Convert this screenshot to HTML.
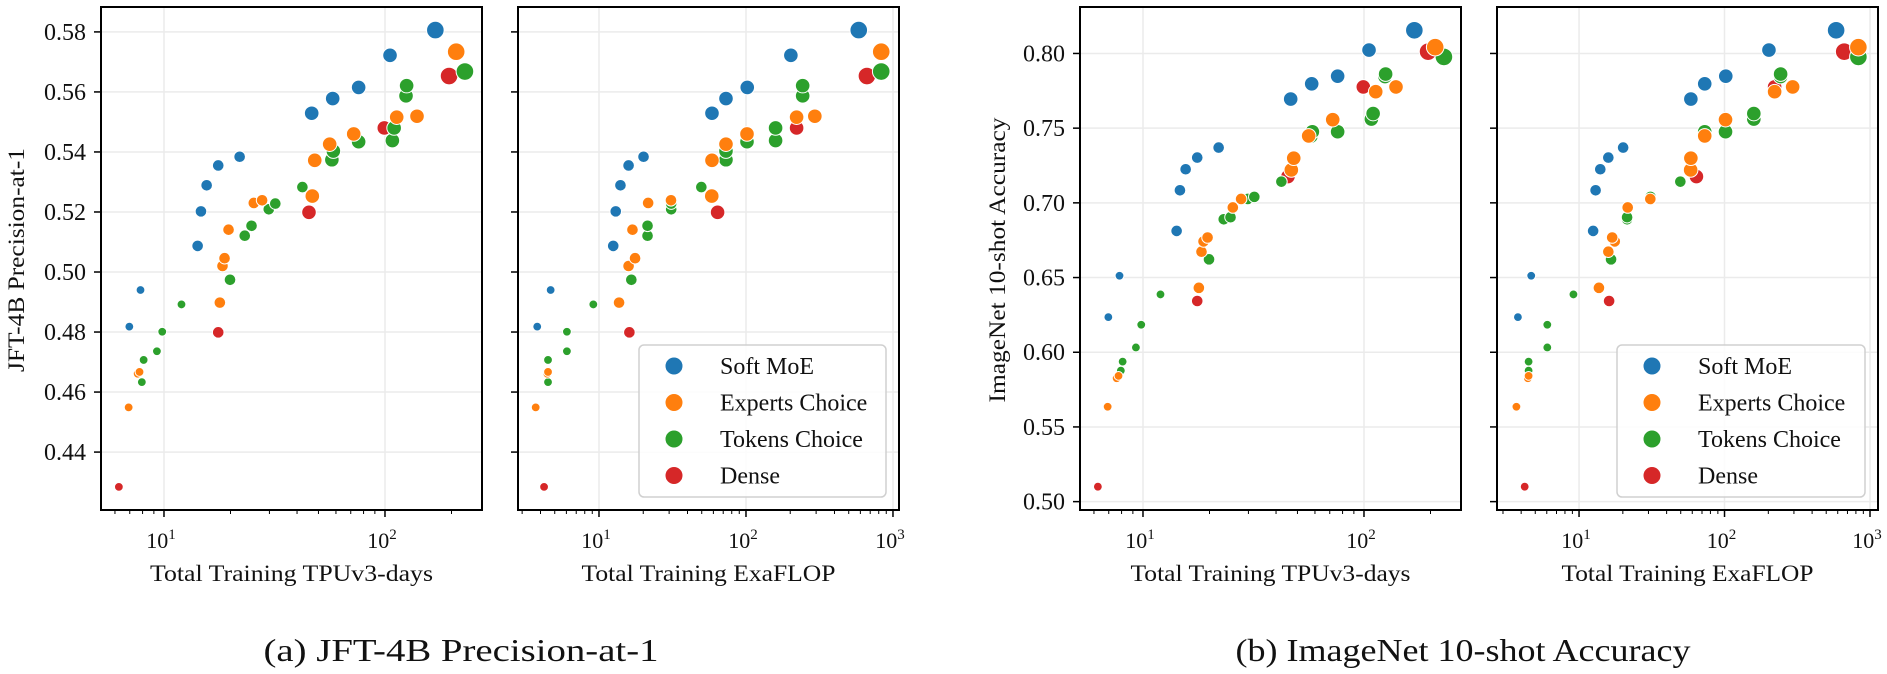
<!DOCTYPE html>
<html><head><meta charset="utf-8"><style>
html,body{margin:0;padding:0;background:#fff;}
svg{display:block;font-family:"Liberation Serif",serif;}
</style></head><body>
<svg id="chart" width="1887" height="674" viewBox="0 0 1887 674" xmlns="http://www.w3.org/2000/svg"></svg>
<script>
// ---- data ----
const seriesNames = ["Soft MoE","Experts Choice","Tokens Choice","Dense"];
const seriesColors = ["#1f77b4","#ff7f0e","#2ca02c","#d62728"];
// Soft MoE
const softTpu  = [6.97,7.83,14.2,14.7,15.6,17.6,22.0,46.6,58.0,76.0,105.4,169];
const softFlop = [3.80,4.69,12.5,13.0,14.0,15.9,20.1,58.7,73.1,102,202,585];
const softJft  = [.4818,.494,.5087,.5202,.5289,.5355,.5384,.5529,.5578,.5615,.5722,.5806];
const softImn  = [.6235,.6512,.6812,.7084,.7225,.7303,.7370,.7695,.7797,.7848,.8023,.8155];
const softSize = ["s","s","m","m","m","m","m","l","l","l","l","xl"];
// Experts Choice
const expTpu  = [6.92,7.6,7.75,17.9,18.4,18.8,19.6,25.5,27.8,46.9,48.1,56.2,72.2,113,139.6,210];
const expFlop = [3.71,4.45,4.5,13.7,15.9,17.6,16.9,21.6,30.9,58.5,58.7,73.1,101.6,221,294,832];
const expJft  = [.4549,.4661,.4667,.4898,.5020,.5046,.5141,.5230,.5239,.5253,.5372,.5426,.5460,.5516,.5519,.5734];
const expImn  = [.5635,.5826,.5842,.6431,.6673,.6742,.6768,.6969,.7026,.7220,.7299,.7448,.7557,.7744,.7776,.8042];
const expSize = ["s","s","s","m","m","m","m","m","m","l","l","l","l","l","l","xl"];
// Tokens Choice
const tokTpu  = [7.94,8.09,9.29,9.82,12.0,19.9,23.2,24.9,29.8,31.9,42.3,57.5,58.4,76.0,108,110,124.5,125.3,230];
const tokFlop = [4.5,4.5,6.05,6.05,9.15,16.6,21.4,21.4,31,31,49.7,73.1,73.1,101.6,159,159,243,243,832];
const tokJft  = [.4633,.4707,.4736,.4801,.4892,.4974,.5121,.5154,.5209,.5228,.5283,.5374,.5403,.5434,.5438,.5480,.5587,.5621,.5668];
const tokImn  = [.5877,.5937,.6032,.6184,.6387,.6622,.6890,.6904,.7026,.7040,.7142,.7446,.7476,.7476,.7561,.7598,.7845,.7862,.7977];
const tokSize = ["s","s","s","s","s","m","m","m","m","m","m","l","l","l","l","l","l","l","xl"];
// Dense
const denTpu  = [6.25,17.6,45.3,99.3,195];
const denFlop = [4.23,16.1,64.1,221,665];
const denJft  = [.4284,.4799,.5199,.5480,.5653];
const denImn  = [.5100,.6343,.7176,.7776,.8012];
const denSize = ["s","m","l","l","xl"];

const jftTicks = [0.44,0.46,0.48,0.50,0.52,0.54,0.56,0.58];
const imnTicks = [0.50,0.55,0.60,0.65,0.70,0.75,0.80];
const xTickExps = [1,2,3];

const NS="http://www.w3.org/2000/svg";
const svg=document.getElementById('chart');
const radius={s:4.4,m:5.8,l:7.3,xl:8.8};
function mk(tag,attrs,parent){const e=document.createElementNS(NS,tag);for(const k in attrs)e.setAttribute(k,attrs[k]);(parent||svg).appendChild(e);return e;}

const panels=[
 {name:"jft-tpu",x0:101,x1:482,l0:0.715,l1:2.439,y0:7,y1:510,v0:.5883,v1:.4207,yt:jftTicks,dec:2,labels:true,metric:"tpu",ds:"jft",xt:"Total Training TPUv3-days",xtw:283,legend:false},
 {name:"jft-flop",x0:518,x1:899,l0:0.449,l1:3.041,y0:7,y1:510,v0:.5883,v1:.4207,yt:jftTicks,dec:2,labels:false,metric:"flop",ds:"jft",xt:"Total Training ExaFLOP",xtw:254,legend:true},
 {name:"imagenet-tpu",x0:1080,x1:1461,l0:0.715,l1:2.439,y0:7,y1:510,v0:.8311,v1:.4944,yt:imnTicks,dec:2,labels:true,metric:"tpu",ds:"imn",xt:"Total Training TPUv3-days",xtw:280,legend:false},
 {name:"imagenet-flop",x0:1497,x1:1878,l0:0.436,l1:3.055,y0:7,y1:510,v0:.8311,v1:.4944,yt:imnTicks,dec:2,labels:false,metric:"flop",ds:"imn",xt:"Total Training ExaFLOP",xtw:252,legend:true}
];
const series=[
 {i:0,tpu:softTpu,flop:softFlop,jft:softJft,imn:softImn,size:softSize},
 {i:3,tpu:denTpu,flop:denFlop,jft:denJft,imn:denImn,size:denSize},
 {i:2,tpu:tokTpu,flop:tokFlop,jft:tokJft,imn:tokImn,size:tokSize},
 {i:1,tpu:expTpu,flop:expFlop,jft:expJft,imn:expImn,size:expSize}
];

panels.forEach(p=>{
  const g=mk('g',{});
  
  
  const X=v=>p.x0+(Math.log10(v)-p.l0)/(p.l1-p.l0)*(p.x1-p.x0);
  const Y=v=>p.y0+(p.v0-v)/(p.v0-p.v1)*(p.y1-p.y0);
  // grid
  p.yt.forEach(t=>{const y=Y(t);const l=mk('line',{x1:p.x0,x2:p.x1,y1:y,y2:y,stroke:'#ebebeb','stroke-width':1.5},g);
    });
  xTickExps.forEach(e=>{const v=Math.pow(10,e);const x=X(v);if(x<p.x0||x>p.x1+1)return;
    const l=mk('line',{x1:x,x2:x,y1:p.y0,y2:p.y1,stroke:'#ebebeb','stroke-width':1.5},g);
    });
  // y ticks
  p.yt.forEach(t=>{const y=Y(t);const tk=mk('line',{x1:p.x0-7,x2:p.x0,y1:y,y2:y,stroke:'#000','stroke-width':1.5},g);
    
    if(p.labels){const tx=mk('text',{x:p.x0-15,y:y+8,'text-anchor':'end','font-size':24,fill:'#111'},g);tx.textContent=t.toFixed(2);
      }});
  // x ticks
  for(let e=0;e<=3;e++){for(let k=1;k<=9;k++){const v=k*Math.pow(10,e);const x=X(v);if(x<p.x0-0.5||x>p.x1+0.5)continue;
    const major=k===1;const tk=mk('line',{x1:x,x2:x,y1:p.y1,y2:p.y1+(major?7:4),stroke:'#000','stroke-width':major?1.5:1},g);
    
    if(major){const tx=mk('text',{x:x-3,y:548,'text-anchor':'middle','font-size':22,fill:'#111'},g);
      tx.textContent='10';const sup=mk('tspan',{dy:-9,'font-size':15},tx);sup.textContent=String(e);
      }}}
  // points
  series.forEach(s=>{const xs=s[p.metric],ys=s[p.ds];
    xs.forEach((xv,j)=>{const c=mk('circle',{cx:X(xv),cy:Y(ys[j]),r:radius[s.size[j]],fill:seriesColors[s.i],stroke:'#fff','stroke-width':1},g);
      
      });});
  // spines
  const fr=mk('rect',{x:p.x0,y:p.y0,width:p.x1-p.x0,height:p.y1-p.y0,fill:'none',stroke:'#000','stroke-width':2},g);
  
  // x title
  const xt=mk('text',{x:(p.x0+p.x1)/2,y:581,'text-anchor':'middle','font-size':23,fill:'#111',textLength:p.xtw,lengthAdjust:'spacingAndGlyphs'},g);
  xt.textContent=p.xt;
  // legend
  if(p.legend){const lx=p.name==='jft-flop'?639:1617,lw=p.name==='jft-flop'?247:248;
    const lg=mk('g',{},g);
    mk('rect',{x:lx,y:345,width:lw,height:152,rx:5,fill:'#fff','fill-opacity':0.85,stroke:'#d0d0d0','stroke-width':1.5},lg);
    [0,1,2,3].forEach((si,k)=>{const yy=366+k*36.5;
      const m=mk('circle',{cx:lx+35,cy:yy,r:9,fill:seriesColors[si],stroke:'#fff','stroke-width':1},lg);
      
      const t=mk('text',{x:lx+81,y:yy+8,'font-size':24,fill:'#111'},lg);t.textContent=seriesNames[si];
      });}
});
// y titles
function ytitle(txt,x,y,len,name){const t=mk('text',{x:0,y:0,transform:`translate(${x},${y}) rotate(-90)`,'text-anchor':'middle','font-size':23,fill:'#111',textLength:len,lengthAdjust:'spacingAndGlyphs'});
  t.textContent=txt;}
ytitle("JFT-4B Precision-at-1",24,260,224,'y-axis-title-jft');
ytitle("ImageNet 10-shot Accuracy",1005,260,285,'y-axis-title-imagenet');
// captions
function caption(txt,x,len,name){const t=mk('text',{x:x,y:661,'text-anchor':'middle','font-size':32,fill:'#111',textLength:len,lengthAdjust:'spacingAndGlyphs'});
  t.textContent=txt;}
caption("(a) JFT-4B Precision-at-1",461,395,'caption-a');
caption("(b) ImageNet 10-shot Accuracy",1463,455,'caption-b');
</script>
</body></html>
